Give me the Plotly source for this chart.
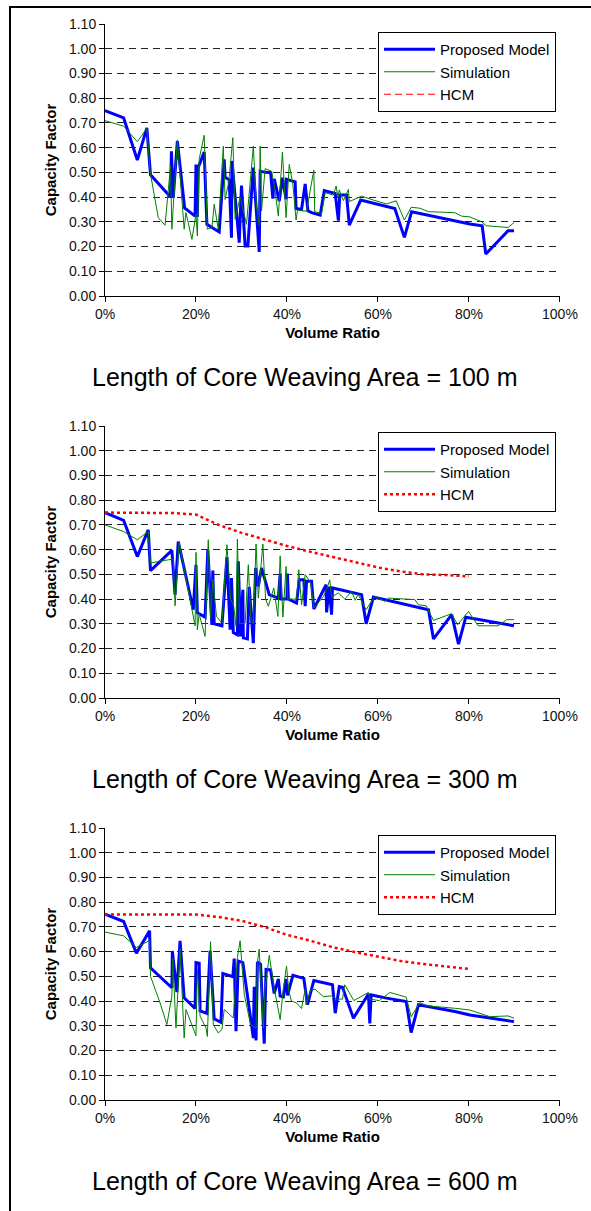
import plotly.graph_objects as go

W, H = 591, 1211

# ---------------- data ----------------
x_ticks = [0.0, 0.2, 0.4, 0.6, 0.8, 1.0]
y_ticks = [0.0, 0.1, 0.2, 0.3, 0.4, 0.5, 0.6, 0.7, 0.8, 0.9, 1.0, 1.1]
panel_titles = ["Length of Core Weaving Area = 100 m",
                "Length of Core Weaving Area = 300 m",
                "Length of Core Weaving Area = 600 m"]
series_names = ["Proposed Model", "Simulation", "HCM"]

# Panel 1 (100 m)
p1_model_x = [0.000, 0.041, 0.071, 0.092, 0.100, 0.144, 0.146, 0.150, 0.159, 0.175, 0.198, 0.200, 0.203, 0.205,
              0.218, 0.224, 0.251, 0.262, 0.264, 0.273, 0.278, 0.279, 0.295, 0.300, 0.308, 0.314, 0.326, 0.339,
              0.341, 0.352, 0.364, 0.369, 0.372, 0.383, 0.390, 0.398, 0.399, 0.418, 0.420, 0.432, 0.440, 0.446,
              0.454, 0.473, 0.482, 0.506, 0.513, 0.516, 0.531, 0.537, 0.562, 0.637, 0.658, 0.674, 0.802, 0.829,
              0.837, 0.886, 0.899]
p1_model_y = [0.750, 0.720, 0.550, 0.680, 0.490, 0.400, 0.585, 0.397, 0.626, 0.356, 0.323, 0.532, 0.320, 0.520,
              0.582, 0.290, 0.259, 0.553, 0.480, 0.470, 0.236, 0.546, 0.216, 0.447, 0.202, 0.202, 0.519, 0.178,
              0.505, 0.500, 0.499, 0.394, 0.474, 0.384, 0.478, 0.391, 0.472, 0.462, 0.354, 0.350, 0.453, 0.345,
              0.337, 0.327, 0.426, 0.415, 0.305, 0.408, 0.408, 0.287, 0.388, 0.354, 0.237, 0.341, 0.291, 0.284,
              0.170, 0.264, 0.264]
p1_sim_x = [0.000, 0.041, 0.071, 0.092, 0.099, 0.117, 0.132, 0.144, 0.147, 0.159, 0.174, 0.178, 0.191, 0.200,
            0.203, 0.207, 0.218, 0.225, 0.235, 0.240, 0.249, 0.260, 0.264, 0.272, 0.281, 0.286, 0.297, 0.311,
            0.326, 0.333, 0.339, 0.341, 0.344, 0.352, 0.366, 0.372, 0.381, 0.390, 0.398, 0.405, 0.413, 0.420,
            0.423, 0.443, 0.459, 0.461, 0.476, 0.484, 0.502, 0.508, 0.512, 0.515, 0.524, 0.535, 0.537, 0.564,
            0.590, 0.619, 0.640, 0.658, 0.673, 0.692, 0.711, 0.769, 0.784, 0.802, 0.828, 0.838, 0.886, 0.899]
p1_sim_y = [0.709, 0.687, 0.624, 0.678, 0.505, 0.317, 0.286, 0.526, 0.270, 0.631, 0.270, 0.337, 0.229, 0.330,
            0.243, 0.553, 0.650, 0.270, 0.276, 0.371, 0.270, 0.606, 0.390, 0.460, 0.640, 0.310, 0.400, 0.290,
            0.606, 0.360, 0.286, 0.606, 0.344, 0.515, 0.505, 0.450, 0.323, 0.582, 0.317, 0.532, 0.450, 0.307,
            0.347, 0.343, 0.509, 0.341, 0.334, 0.418, 0.408, 0.445, 0.400, 0.429, 0.386, 0.431, 0.382, 0.404,
            0.388, 0.372, 0.385, 0.307, 0.359, 0.355, 0.341, 0.337, 0.323, 0.320, 0.300, 0.284, 0.277, 0.297]
# HCM is listed in this panel's legend but has no plotted values
p1_hcm_x = [None]
p1_hcm_y = [None]

# Panel 2 (300 m)
p2_model_x = [0.000, 0.041, 0.071, 0.095, 0.100, 0.147, 0.154, 0.161, 0.194, 0.200, 0.203, 0.220, 0.226, 0.235,
              0.237, 0.240, 0.257, 0.268, 0.275, 0.278, 0.282, 0.291, 0.293, 0.298, 0.303, 0.304, 0.313, 0.317,
              0.326, 0.331, 0.337, 0.344, 0.361, 0.381, 0.385, 0.387, 0.400, 0.401, 0.403, 0.421, 0.427, 0.437,
              0.440, 0.443, 0.454, 0.459, 0.486, 0.487, 0.493, 0.498, 0.500, 0.564, 0.574, 0.590, 0.711, 0.722,
              0.762, 0.777, 0.793, 0.899]
p2_model_y = [0.750, 0.718, 0.572, 0.680, 0.515, 0.597, 0.418, 0.633, 0.357, 0.539, 0.345, 0.327, 0.600, 0.296,
              0.516, 0.300, 0.292, 0.570, 0.276, 0.485, 0.265, 0.256, 0.553, 0.249, 0.438, 0.243, 0.239, 0.449,
              0.222, 0.526, 0.451, 0.526, 0.418, 0.404, 0.503, 0.400, 0.400, 0.503, 0.400, 0.384, 0.478, 0.478,
              0.371, 0.472, 0.472, 0.360, 0.458, 0.346, 0.450, 0.337, 0.445, 0.418, 0.300, 0.408, 0.357, 0.239,
              0.337, 0.218, 0.327, 0.292]
p2_sim_x = [0.000, 0.041, 0.071, 0.095, 0.100, 0.116, 0.150, 0.154, 0.163, 0.198, 0.200, 0.203, 0.207, 0.220,
            0.227, 0.232, 0.237, 0.245, 0.257, 0.268, 0.276, 0.283, 0.288, 0.291, 0.296, 0.308, 0.315, 0.320,
            0.326, 0.332, 0.337, 0.347, 0.353, 0.359, 0.371, 0.380, 0.385, 0.391, 0.398, 0.402, 0.421, 0.426,
            0.432, 0.440, 0.452, 0.459, 0.480, 0.487, 0.494, 0.498, 0.513, 0.527, 0.542, 0.550, 0.556, 0.574,
            0.593, 0.615, 0.623, 0.681, 0.689, 0.706, 0.722, 0.762, 0.775, 0.799, 0.820, 0.864, 0.883, 0.899]
p2_sim_y = [0.700, 0.673, 0.640, 0.673, 0.545, 0.552, 0.562, 0.373, 0.629, 0.292, 0.589, 0.276, 0.340, 0.249,
            0.640, 0.323, 0.480, 0.330, 0.303, 0.620, 0.400, 0.370, 0.290, 0.643, 0.300, 0.303, 0.539, 0.330,
            0.300, 0.623, 0.404, 0.623, 0.400, 0.371, 0.445, 0.330, 0.575, 0.327, 0.532, 0.400, 0.400, 0.519,
            0.377, 0.499, 0.468, 0.364, 0.410, 0.438, 0.478, 0.408, 0.425, 0.400, 0.431, 0.395, 0.420, 0.357,
            0.411, 0.391, 0.404, 0.398, 0.377, 0.373, 0.314, 0.341, 0.296, 0.350, 0.292, 0.292, 0.317, 0.317]
p2_hcm_x = [0.00, 0.05, 0.10, 0.15, 0.20, 0.25, 0.30, 0.35, 0.40, 0.45, 0.50, 0.55, 0.60, 0.65, 0.70, 0.75, 0.80]
p2_hcm_y = [0.750, 0.750, 0.750, 0.748, 0.742, 0.700, 0.668, 0.640, 0.615, 0.592, 0.570, 0.548, 0.528, 0.512,
            0.500, 0.497, 0.492]

# Panel 3 (600 m)
p3_model_x = [0.000, 0.041, 0.069, 0.098, 0.100, 0.147, 0.148, 0.158, 0.165, 0.174, 0.198, 0.200, 0.207, 0.209,
              0.224, 0.231, 0.240, 0.255, 0.259, 0.281, 0.284, 0.288, 0.293, 0.303, 0.326, 0.328, 0.332, 0.335,
              0.342, 0.350, 0.354, 0.364, 0.372, 0.381, 0.385, 0.392, 0.398, 0.401, 0.413, 0.437, 0.445, 0.459,
              0.500, 0.506, 0.515, 0.522, 0.546, 0.579, 0.582, 0.585, 0.619, 0.662, 0.673, 0.689, 0.769, 0.802,
              0.899]
p3_model_y = [0.752, 0.722, 0.594, 0.684, 0.535, 0.454, 0.603, 0.436, 0.644, 0.413, 0.370, 0.556, 0.553, 0.360,
              0.350, 0.603, 0.328, 0.314, 0.512, 0.499, 0.572, 0.278, 0.562, 0.556, 0.251, 0.458, 0.241, 0.558,
              0.549, 0.228, 0.528, 0.526, 0.431, 0.490, 0.420, 0.417, 0.490, 0.423, 0.504, 0.492, 0.386, 0.483,
              0.466, 0.351, 0.459, 0.456, 0.331, 0.429, 0.310, 0.425, 0.412, 0.398, 0.273, 0.385, 0.358, 0.344,
              0.317]
p3_sim_x = [0.000, 0.041, 0.069, 0.098, 0.100, 0.121, 0.136, 0.147, 0.149, 0.156, 0.165, 0.174, 0.178, 0.200,
            0.203, 0.209, 0.222, 0.225, 0.232, 0.238, 0.249, 0.257, 0.262, 0.282, 0.291, 0.297, 0.306, 0.320,
            0.332, 0.335, 0.339, 0.344, 0.348, 0.352, 0.361, 0.372, 0.385, 0.392, 0.399, 0.404, 0.410, 0.421,
            0.432, 0.440, 0.442, 0.452, 0.462, 0.480, 0.498, 0.509, 0.522, 0.527, 0.547, 0.579, 0.582, 0.603,
            0.626, 0.662, 0.673, 0.692, 0.707, 0.769, 0.802, 0.846, 0.886, 0.899]
p3_sim_y = [0.679, 0.664, 0.617, 0.645, 0.500, 0.393, 0.305, 0.420, 0.572, 0.291, 0.612, 0.251, 0.366, 0.260,
            0.528, 0.339, 0.291, 0.257, 0.640, 0.305, 0.271, 0.285, 0.366, 0.332, 0.576, 0.644, 0.427, 0.305,
            0.291, 0.556, 0.610, 0.400, 0.291, 0.450, 0.585, 0.450, 0.325, 0.450, 0.542, 0.440, 0.400, 0.393,
            0.370, 0.448, 0.385, 0.445, 0.448, 0.418, 0.421, 0.408, 0.408, 0.466, 0.402, 0.435, 0.408, 0.402,
            0.435, 0.416, 0.337, 0.394, 0.381, 0.371, 0.364, 0.337, 0.340, 0.331]
p3_hcm_x = [0.00, 0.05, 0.10, 0.15, 0.20, 0.25, 0.30, 0.35, 0.40, 0.45, 0.50, 0.55, 0.60, 0.65, 0.70, 0.75, 0.80]
p3_hcm_y = [0.750, 0.750, 0.750, 0.750, 0.750, 0.740, 0.725, 0.700, 0.668, 0.645, 0.618, 0.598, 0.580, 0.562,
            0.550, 0.540, 0.530]

panels = [
    (p1_model_x, p1_model_y, p1_sim_x, p1_sim_y, p1_hcm_x, p1_hcm_y, "7px,4px", 1.2),
    (p2_model_x, p2_model_y, p2_sim_x, p2_sim_y, p2_hcm_x, p2_hcm_y, "dot", 2.5),
    (p3_model_x, p3_model_y, p3_sim_x, p3_sim_y, p3_hcm_x, p3_hcm_y, "dot", 2.5),
]

# ---------------- layout geometry (pixels) ----------------
PLOT_L, PLOT_R = 105, 560
PLOT_TOPS = [24, 426, 828]
PLOT_H = 272
TITLE_OFFSET = 81
LEGEND_TOPS = [32, 432, 835]
LEGEND_LEFT = 378
FONT = "Liberation Sans, Arial, sans-serif"

fig = go.Figure()
layout = dict(
    width=W, height=H, autosize=False,
    margin=dict(l=0, r=0, t=0, b=0, pad=0, autoexpand=False),
    paper_bgcolor="white", plot_bgcolor="white",
    font=dict(family=FONT, color="black", size=14),
    annotations=[], shapes=[],
)

for i, (mx, my, sx, sy, hx, hy, hdash, hw) in enumerate(panels):
    n = "" if i == 0 else str(i + 1)
    leg = "legend" + n
    xa, ya = "x" + n, "y" + n
    fig.add_trace(go.Scatter(x=mx, y=my, mode="lines", name=series_names[0], xaxis=xa, yaxis=ya,
                             line=dict(color="#0000FF", width=3), legend=leg))
    fig.add_trace(go.Scatter(x=sx, y=sy, mode="lines", name=series_names[1], xaxis=xa, yaxis=ya,
                             line=dict(color="#008000", width=1), legend=leg))
    fig.add_trace(go.Scatter(x=hx, y=hy, mode="lines", name=series_names[2], xaxis=xa, yaxis=ya,
                             line=dict(color="#FF0000", width=hw, dash=hdash), legend=leg))
    top = PLOT_TOPS[i]
    bot = top + PLOT_H
    layout["xaxis" + n] = dict(
        domain=[PLOT_L / W, PLOT_R / W], anchor=ya, range=[0, 1.0001], automargin=False,
        tickvals=x_ticks, tickformat=".0%", ticks="outside", ticklen=5, tickcolor="black",
        showline=True, linecolor="black", linewidth=1, showgrid=False, zeroline=False,
        tickfont=dict(size=14, color="#111"),
        title=dict(text="<b>Volume Ratio</b>", font=dict(size=15, color="black"), standoff=6),
    )
    layout["yaxis" + n] = dict(
        domain=[1 - bot / H, 1 - top / H], anchor=xa, range=[0, 1.1001], automargin=False,
        tickvals=y_ticks, tickformat=".2f", ticks="outside", ticklen=5, tickcolor="black",
        showline=True, linecolor="black", linewidth=1,
        showgrid=True, gridcolor="#222", gridwidth=1, griddash="7px,5px", zeroline=False,
        tickfont=dict(size=14, color="#111"),
        title=dict(text="<b>Capacity Factor</b>", font=dict(size=15, color="black"), standoff=8),
    )
    layout[leg] = dict(
        x=LEGEND_LEFT / W, y=1 - LEGEND_TOPS[i] / H, xanchor="left", yanchor="top",
        bgcolor="white", bordercolor="black", borderwidth=1,
        font=dict(size=15, color="black", family=FONT), itemwidth=51, tracegroupgap=0,
    )
    layout["annotations"].append(dict(
        text=panel_titles[i], xref="paper", yref="paper", x=305 / W, y=1 - (bot + TITLE_OFFSET) / H,
        xanchor="center", yanchor="middle", showarrow=False, font=dict(size=25, color="black", family=FONT),
    ))

# outer frame of the figure (only its left and top edges fall inside the picture)
layout["shapes"].append(dict(type="rect", xref="paper", yref="paper",
                             x0=10 / W, y0=1 - 7 / H, x1=1.01, y1=-0.01,
                             line=dict(color="black", width=2), fillcolor="rgba(0,0,0,0)", layer="above"))

fig.update_layout(**layout)
fig.write_html("out.html",
               post_script="document.body.style.margin='0';document.body.style.overflow='hidden';")
